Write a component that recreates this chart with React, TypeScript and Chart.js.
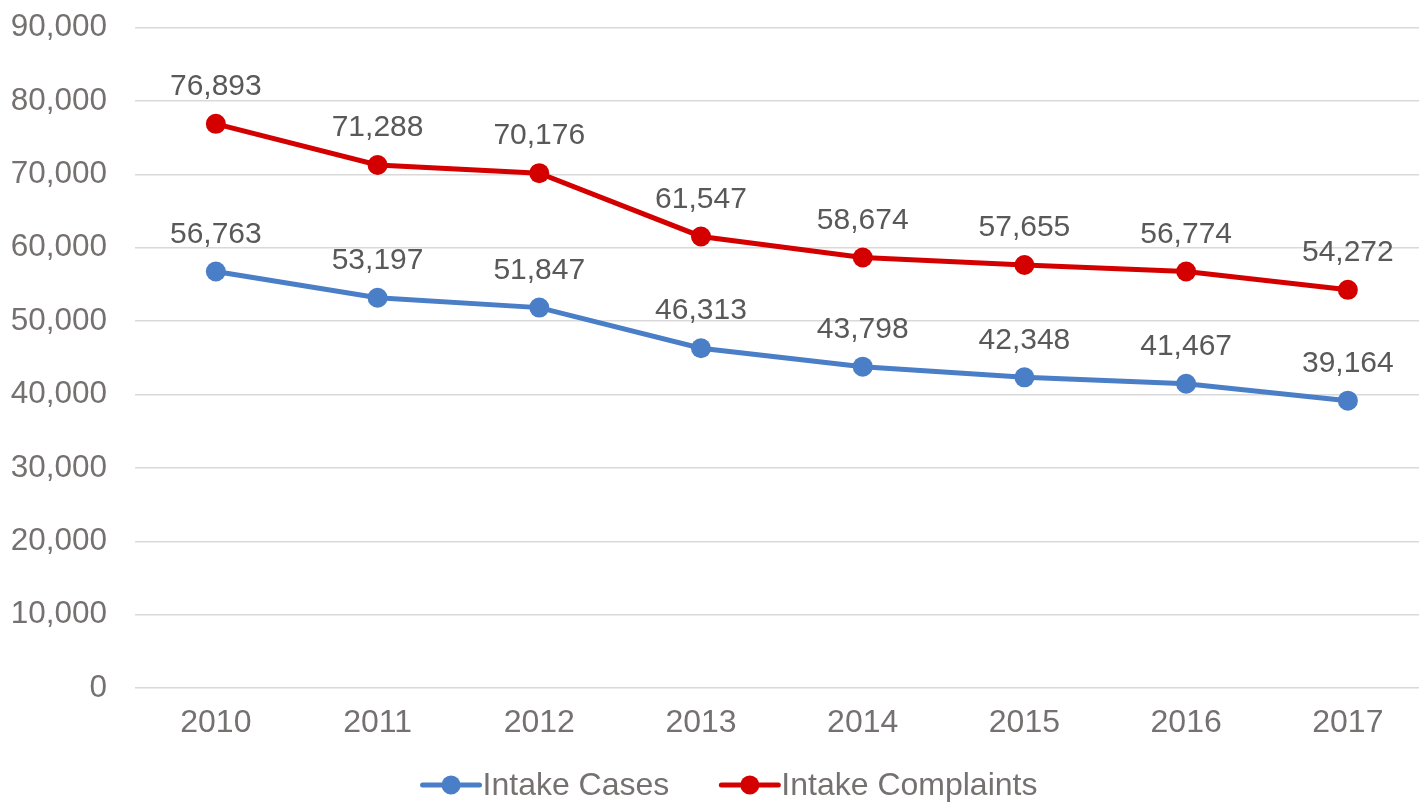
import React, { useEffect, useRef } from "react";
import { Chart, registerables } from "chart.js";

Chart.register(...registerables);

const categories = ["2010", "2011", "2012", "2013", "2014", "2015", "2016", "2017"];
const intakeCases = [56763, 53197, 51847, 46313, 43798, 42348, 41467, 39164];
const intakeComplaints = [76893, 71288, 70176, 61547, 58674, 57655, 56774, 54272];
const seriesNames = ["Intake Cases", "Intake Complaints"];
const seriesColors = ["#4a7ec6", "#d40000"];

const FONT = "'Liberation Sans', Arial, sans-serif";
const TICK_COLOR = "#767171";
const LABEL_COLOR = "#595959";

const fmt = (v: number) => v.toLocaleString("en-US");

const dataLabelPlugin = {
  id: "dataLabels",
  afterDatasetsDraw(chart: any) {
    const ctx = chart.ctx;
    ctx.save();
    ctx.font = `30px ${FONT}`;
    ctx.fillStyle = LABEL_COLOR;
    ctx.textAlign = "center";
    ctx.textBaseline = "middle";
    chart.data.datasets.forEach((ds: any, di: number) => {
      const meta = chart.getDatasetMeta(di);
      meta.data.forEach((el: any, i: number) => {
        ctx.fillText(fmt(ds.data[i].y), el.x, el.y - 37);
      });
    });
    ctx.restore();
  },
};

const legendPlugin = {
  id: "customLegend",
  afterDraw(chart: any) {
    const ctx = chart.ctx;
    ctx.save();
    ctx.font = `32px ${FONT}`;
    const lineLen = 57;
    const gapText = 3;
    const gapItems = 52;
    const widths = seriesNames.map((n) => lineLen + gapText + ctx.measureText(n).width);
    const total = widths.reduce((a, b) => a + b, 0) + gapItems * (seriesNames.length - 1);
    let x = 730 - total / 2;
    const y = 785;
    seriesNames.forEach((name, i) => {
      ctx.strokeStyle = seriesColors[i];
      ctx.lineWidth = 5;
      ctx.lineCap = "round";
      ctx.beginPath();
      ctx.moveTo(x, y);
      ctx.lineTo(x + lineLen, y);
      ctx.stroke();
      ctx.fillStyle = seriesColors[i];
      ctx.beginPath();
      ctx.arc(x + lineLen / 2, y, 9.5, 0, Math.PI * 2);
      ctx.fill();
      ctx.fillStyle = TICK_COLOR;
      ctx.textAlign = "left";
      ctx.textBaseline = "middle";
      ctx.fillText(name, x + lineLen + gapText, y + 1);
      x += widths[i] + gapItems;
    });
    ctx.restore();
  },
};

export default function App() {
  const ref = useRef<HTMLCanvasElement>(null);
  useEffect(() => {
    if (!ref.current) return;
    const mk = (vals: number[], i: number) => ({
      label: seriesNames[i],
      data: vals.map((v, k) => ({ x: k, y: v })),
      borderColor: seriesColors[i],
      backgroundColor: seriesColors[i],
      borderWidth: 5,
      pointRadius: 10,
      pointHoverRadius: 10,
      pointBorderWidth: 0,
      tension: 0,
    });
    const chart = new Chart(ref.current, {
      type: "line",
      data: {
        datasets: [mk(intakeCases, 0), mk(intakeComplaints, 1)],
      },
      options: {
        animation: false,
        responsive: false,
        maintainAspectRatio: false,
        layout: { autoPadding: false, padding: { top: 27.7, left: 0, right: 0, bottom: 54 } },
        plugins: {
          legend: { display: false },
          tooltip: { enabled: false },
        },
        scales: {
          x: {
            type: "linear",
            min: -0.5,
            max: 7.44,
            afterBuildTicks: (scale: any) => {
              scale.ticks = categories.map((_, i) => ({ value: i }));
            },
            afterFit: (scale: any) => {
              scale.height = 60;
              scale.paddingLeft = 0;
              scale.paddingRight = 0;
            },
            grid: { display: false, drawTicks: false },
            border: { display: false },
            ticks: {
              padding: 16,
              color: TICK_COLOR,
              font: { family: FONT, size: 32 },
              maxRotation: 0,
              autoSkip: false,
              callback: (v: any) => categories[Math.round(Number(v))] ?? "",
            },
          },
          y: {
            min: 0,
            max: 90000,
            afterFit: (scale: any) => {
              scale.width = 135;
              scale.paddingTop = 0;
              scale.paddingBottom = 0;
            },
            grid: { color: "#d9d9d9", lineWidth: 1.5, drawTicks: false },
            border: { display: false },
            ticks: {
              stepSize: 10000,
              padding: 28,
              color: TICK_COLOR,
              font: { family: FONT, size: 31.5 },
              callback: (v: any) => fmt(Number(v)),
            },
          },
        },
      },
      plugins: [dataLabelPlugin, legendPlugin],
    });
    return () => chart.destroy();
  }, []);
  return (
    <div style={{ position: "fixed", left: 0, top: 0, width: 1419, height: 802, background: "#fff" }}>
      <canvas ref={ref} width={1419} height={802} style={{ display: "block" }} />
    </div>
  );
}
